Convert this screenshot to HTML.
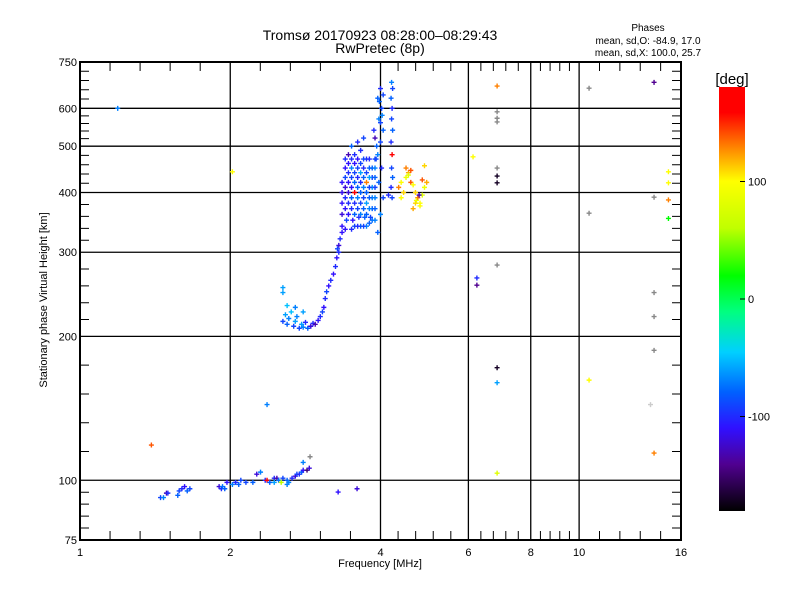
<!DOCTYPE html>
<html><head><meta charset="utf-8"><style>
body{margin:0;background:#fff;}
svg{display:block;font-family:"Liberation Sans",sans-serif;}
</style></head><body>
<svg id="chart" width="800" height="600">
<defs><linearGradient id="cb" x1="0" y1="1" x2="0" y2="0">
<stop offset="0" stop-color="#000"/><stop offset="0.11" stop-color="#500090"/><stop offset="0.195" stop-color="#3010ff"/><stop offset="0.28" stop-color="#0060ff"/><stop offset="0.375" stop-color="#00d0ff"/><stop offset="0.47" stop-color="#00ff80"/><stop offset="0.555" stop-color="#00ff00"/><stop offset="0.667" stop-color="#c0ff00"/><stop offset="0.778" stop-color="#ffff00"/><stop offset="0.86" stop-color="#ff8000"/><stop offset="0.94" stop-color="#ff0000"/><stop offset="1" stop-color="#ff0000"/></linearGradient></defs>
<text x="380" y="40" font-size="14" text-anchor="middle">Tromsø 20170923 08:28:00–08:29:43</text>
<text x="380" y="53" font-size="14" text-anchor="middle">RwPretec (8p)</text>
<text x="648" y="31" font-size="10" text-anchor="middle">Phases</text>
<text x="648" y="44" font-size="10" text-anchor="middle">mean, sd,O: -84.9, 17.0</text>
<text x="648" y="56" font-size="10" text-anchor="middle">mean, sd,X: 100.0, 25.7</text>
<text x="380" y="567" font-size="11" text-anchor="middle">Frequency [MHz]</text>
<text transform="translate(47,300) rotate(-90)" font-size="11" text-anchor="middle">Stationary phase Virtual Height [km]</text>
<rect x="719" y="87" width="26" height="424" fill="url(#cb)"/>
<text x="732" y="84" font-size="15" text-anchor="middle">[deg]</text>
<g id="g"></g>
</svg>
<script>
const xMajor=[1,2,4,6,8,10,16];
const yMajor=[75,100,200,300,400,500,600,750];
const cbTicks=[100,0,-100];
const freqs=[1.45,1.47,1.49,1.5,1.57,1.58,1.6,1.62,1.64,1.66,1.9,1.92,1.93,1.95,1.97,2.02,2.05,2.08,2.1,2.15,2.22,2.26,2.3,2.35,2.37,2.4,2.45,2.48,2.5,2.53,2.55,2.6,2.62,2.66,2.7,2.72,2.75,2.78,2.8,2.85,2.88,2.8,2.6,2.45,
2.37,1.39,3.29,3.59,2.89,
2.55,2.55,2.55,2.58,2.6,2.62,2.65,2.68,2.7,2.72,2.75,2.78,2.8,2.83,2.86,2.9,2.93,2.96,3.0,3.03,3.06,3.08,3.1,3.12,3.15,3.18,2.7,2.8,2.6,
3.22,3.25,3.27,3.3,3.3,3.32,3.35,3.28,
3.35,3.35,3.35,3.35,3.35,3.45,3.45,3.45,3.45,3.45,3.45,3.45,3.55,3.55,3.55,3.55,3.55,3.55,3.55,3.55,3.65,3.65,3.65,3.65,3.65,3.65,3.65,3.65,3.75,3.75,3.75,3.75,3.75,3.75,3.75,3.85,3.85,3.85,3.85,3.85,3.85,3.4,3.5,3.6,3.7,3.8,3.9,3.42,3.52,3.62,3.72,3.82,3.5,3.6,3.7,
3.95,4.0,4.05,3.97,4.02,3.95,4.0,4.05,3.97,4.02,3.95,4.0,4.05,3.98,4.03,4.0,3.93,3.9,3.88,3.92,
4.22,4.2,4.23,4.21,4.22,4.2,4.23,4.21,4.22,4.2,4.23,4.21,4.15,
4.35,4.4,4.45,4.5,4.55,4.6,4.65,4.7,4.75,4.8,4.85,4.9,4.95,4.5,4.6,4.7,4.8,4.65,4.72,4.78,4.85,4.4,4.55,4.9,
6.85,6.85,6.85,6.85,6.85,6.85,6.85,6.13,6.24,6.24,6.85,6.85,6.85,6.85,10.47,10.47,10.47,14.13,14.13,14.13,14.13,14.13,14.13,13.9,15.1,15.1,15.1,15.1,1.19,2.02,
3.4,3.4,3.4,3.4,3.4,3.4,3.5,3.5,3.5,3.5,3.5,3.5,3.6,3.6,3.6,3.6,3.6,3.6,3.7,3.7,3.7,3.7,3.7,3.7,3.8,3.8,3.8,3.8,3.8,3.8,3.9,3.9,3.9,3.9,3.9,3.9];
const heights=[92,92,94,94,93,95,96,97,95,96,97,96,97,96,99,98,99,98,100,99,99,103,104,100,100,99,101,101,100,99,101,100,99,101,102,103,103,104,105,105,106,109,98,99,
144,118.5,94.5,96,112,
253,247,215,222,212,218,225,210,215,220,208,212,209,214,208,210,213,212,216,220,225,230,240,248,255,262,230,225,232,
270,280,292,300,310,320,330,305,
340,360,380,400,420,360,380,400,420,440,460,480,340,360,380,400,420,440,460,480,340,360,380,400,420,440,460,490,340,360,380,400,420,440,470,350,370,390,410,430,450,335,335,340,340,345,350,350,350,355,355,355,500,510,520,
330,360,390,420,450,480,510,540,570,600,630,660,640,620,580,560,500,520,540,470,
390,410,430,450,480,510,540,570,600,630,660,680,395,
410,420,400,430,440,420,415,400,390,380,395,410,420,450,445,380,375,370,385,395,425,390,435,455,
668,590,572,562,450,433,419,475,265,256,282,172,160,103.5,661,362,162,680,391,247,220,187,114,144,442,419,386,353,600,442,
370,390,410,430,450,470,370,390,410,430,450,470,370,390,410,430,450,470,370,390,410,430,450,470,370,390,410,430,450,470,370,390,410,430,450,470];
const phases=[-90,-70,-130,-100,-80,-90,-100,-110,-80,-90,-120,-100,-75,-80,-110,-70,-100,-80,-90,-90,-80,-120,-70,-100,170,-80,-100,-130,-75,60,-90,-80,-70,-100,-120,-90,-100,-80,-110,-150,-120,-70,-70,-60,
-70,140,-110,-120,-999,
-60,-60,-90,-60,-80,-70,-50,-90,-60,-70,-90,-60,-70,-100,-80,-120,-100,-130,-110,-100,-90,-110,-100,-90,-110,-100,-70,-60,-50,
-110,-100,-110,-100,-120,-100,-110,-90,
-110,-120,-110,-115,-110,-110,-100,-120,-110,-100,-110,-130,-90,-80,-100,170,-80,-90,-110,-100,-80,-70,-90,-80,-100,-60,-90,-100,-70,-80,-60,-80,130,-90,-100,-75,-80,-70,-60,-90,-80,-110,-100,-100,-90,-80,-70,-90,-110,-100,-80,-90,-80,-100,-90,
-80,-70,-90,-80,-100,-70,-90,-80,-70,-90,-80,-100,-90,-80,-70,-90,-80,-130,-100,-90,
-90,-100,-80,-90,160,-100,-80,-90,-100,-80,-90,-70,-100,
130,100,110,90,120,140,100,110,130,100,80,90,120,130,140,110,100,120,90,-130,140,100,80,110,
130,-999,-999,-999,-999,-170,-170,100,-100,-140,-999,-170,-60,80,-999,-999,100,-140,-999,-999,-999,-999,130,-998,100,100,130,20,-70,100,
-110,-100,-120,-90,-110,-100,-100,-80,-110,-90,-70,-100,-90,-70,-80,-100,-90,-110,-80,-90,-70,-80,-100,-90,-70,-80,-90,-60,-80,-100,-80,-70,-90,-80,-70,-90];
const X0=80,X1=681,Y0=62,Y1=540;
function xs(f){return X0+(X1-X0)*Math.log(f)/Math.log(16);}
function ys(h){return Y1-(Y1-Y0)*Math.log(h/75)/Math.log(10);}
const stops=[[-180,[0,0,0]],[-140,[80,0,144]],[-110,[48,16,255]],[-80,[0,96,255]],[-45,[0,208,255]],[-10,[0,255,128]],[20,[0,255,0]],[60,[192,255,0]],[100,[255,255,0]],[130,[255,128,0]],[160,[255,0,0]],[180,[255,0,0]]];
function col(p){if(p<=-998)return p==-999?'#888':'#ccc';for(let i=1;i<stops.length;i++){if(p<=stops[i][0]){const a=stops[i-1],b=stops[i],t=(p-a[0])/(b[0]-a[0]);return 'rgb('+a[1].map((v,k)=>Math.round(v+(b[1][k]-v)*t)).join(',')+')';}}return '#f00';}
const NS='http://www.w3.org/2000/svg',g=document.getElementById('g');
function mk(t,a){const e=document.createElementNS(NS,t);for(const k in a)e.setAttribute(k,a[k]);g.appendChild(e);return e;}
let e=mk('rect',{x:X0,y:Y0,width:X1-X0,height:Y1-Y0,fill:'none',stroke:'#000','stroke-width':2});


for(let i=0;i<xMajor.length;i++){const v=xMajor[i],x=xs(v);
 if(i>0&&i<xMajor.length-1){e=mk('line',{x1:x,x2:x,y1:Y0,y2:Y1,stroke:'#000','stroke-width':1.3});
 
 }
 e=mk('text',{x:x,y:Y1+16,'font-size':11,'text-anchor':'middle'});e.textContent=v;
 
 
 if(i<xMajor.length-1){const n=xMajor[i+1];for(let k=1;k<5;k++){const xm=xs(v*Math.pow(n/v,k/5));
  e=mk('path',{d:`M${xm},${Y1}v-9M${xm},${Y0}v9`,stroke:'#000','stroke-width':1});
  
  }}}
for(let i=0;i<yMajor.length;i++){const v=yMajor[i],y=ys(v);
 if(i>0&&i<yMajor.length-1){e=mk('line',{x1:X0,x2:X1,y1:y,y2:y,stroke:'#000','stroke-width':1.3});
 
 }
 e=mk('text',{x:X0-3,y:y+4,'font-size':11,'text-anchor':'end'});e.textContent=v;
 
 
 if(i<yMajor.length-1){const n=yMajor[i+1];for(let k=1;k<5;k++){const ym=ys(v*Math.pow(n/v,k/5));
  e=mk('path',{d:`M${X0},${ym}h9M${X1},${ym}h-9`,stroke:'#000','stroke-width':1});
  
  }}}
for(const t of cbTicks){const y=299-t*423/360;
 e=mk('path',{d:`M745,${y}h-5`,stroke:'#000'});
 
 
 e=mk('text',{x:748,y:y+4,'font-size':11});e.textContent=t;
 
 }
for(let i=0;i<freqs.length;i++){const x=xs(freqs[i]),y=ys(heights[i]);
 e=mk('path',{d:`M${x-2.5},${y}h5M${x},${y-2.5}v5`,stroke:col(phases[i]),'stroke-width':1.4});
 
 }
</script>
</body></html>
